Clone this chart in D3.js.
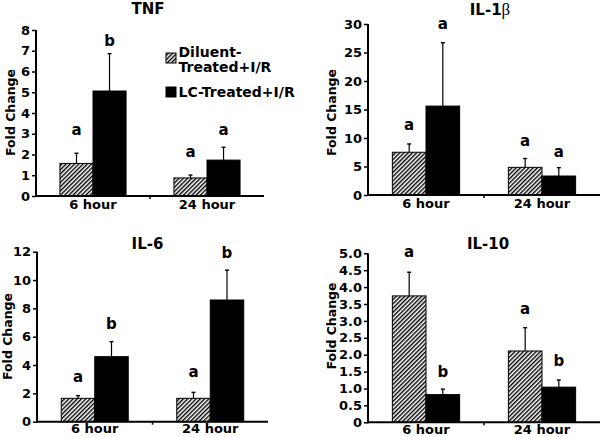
<!DOCTYPE html>
<html>
<head>
<meta charset="utf-8">
<script src="https://cdn.jsdelivr.net/npm/d3@7"></script>
<style>
  html, body { margin: 0; padding: 0; background: #fff; }
  svg { display: block; }
  text { font-family: "DejaVu Sans", Verdana, sans-serif; font-weight: bold; fill: #000; }
</style>
</head>
<body>
<svg id="chart" width="601" height="437"></svg>
<script>
// ---------------- data ----------------
const categories = ["6 hour", "24 hour"];
const seriesNames = ["Diluent-Treated+I/R", "LC-Treated+I/R"];

const tnfDiluent = [1.57, 0.87];
const tnfDiluentErr = [0.49, 0.14];
const tnfLC = [5.06, 1.73];
const tnfLCErr = [1.80, 0.62];
const tnfDiluentLetters = ["a", "a"];
const tnfLCLetters = ["b", "a"];
const tnfDiluentLetterAt = [2.94, 1.88];
const tnfLCLetterAt = [7.22, 2.94];
const tnfTicks = [0, 1, 2, 3, 4, 5, 6, 7, 8];
const tnfTickLabels = ["0", "1", "2", "3", "4", "5", "6", "7", "8"];

const il1Diluent = [7.5, 4.85];
const il1DiluentErr = [1.45, 1.55];
const il1LC = [15.6, 3.33];
const il1LCErr = [11.1, 1.47];
const il1DiluentLetters = ["a", "a"];
const il1LCLetters = ["a", "a"];
const il1DiluentLetterAt = [11.4, 8.65];
const il1LCLetterAt = [29.2, 6.7];
const il1Ticks = [0, 5, 10, 15, 20, 25, 30];
const il1TickLabels = ["0", "5", "10", "15", "20", "25", "30"];

const il6Diluent = [1.65, 1.65];
const il6DiluentErr = [0.19, 0.42];
const il6LC = [4.59, 8.59];
const il6LCErr = [1.06, 2.11];
const il6DiluentLetters = ["a", "a"];
const il6LCLetters = ["b", "b"];
const il6DiluentLetterAt = [2.82, 3.13];
const il6LCLetterAt = [6.52, 11.53];
const il6Ticks = [0, 2, 4, 6, 8, 10, 12];
const il6TickLabels = ["0", "2", "4", "6", "8", "10", "12"];

const il10Diluent = [3.74, 2.11];
const il10DiluentErr = [0.70, 0.69];
const il10LC = [0.82, 1.04];
const il10LCErr = [0.16, 0.21];
const il10DiluentLetters = ["a", "a"];
const il10LCLetters = ["b", "b"];
const il10DiluentLetterAt = [4.9, 3.2];
const il10LCLetterAt = [1.35, 1.67];
const il10Ticks = [0, 0.5, 1, 1.5, 2, 2.5, 3, 3.5, 4, 4.5, 5];
const il10TickLabels = ["0", "0.5", "1.0", "1.5", "2.0", "2.5", "3.0", "3.5", "4.0", "4.5", "5.0"];

// ---------------- layout ----------------
const panels = [
  { title: "TNF", beta: false, left: 36, right: 264, top: 30, bottom: 196, titleX: 148, titleY: 14, ylabX: 10, ylabY: 112.5, xPad: 4,
    values: [tnfDiluent, tnfLC], errs: [tnfDiluentErr, tnfLCErr], letters: [tnfDiluentLetters, tnfLCLetters],
    letterAt: [tnfDiluentLetterAt, tnfLCLetterAt], ticks: tnfTicks, tickLabels: tnfTickLabels, legend: true },
  { title: "IL-1", beta: true, left: 368, right: 600, top: 24, bottom: 195, titleX: 490, titleY: 15, ylabX: 331.5, ylabY: 112.5, xPad: 4,
    values: [il1Diluent, il1LC], errs: [il1DiluentErr, il1LCErr], letters: [il1DiluentLetters, il1LCLetters],
    letterAt: [il1DiluentLetterAt, il1LCLetterAt], ticks: il1Ticks, tickLabels: il1TickLabels },
  { title: "IL-6", beta: false, left: 37, right: 268, top: 251.7, bottom: 421.7, titleX: 147.5, titleY: 248.5, ylabX: 7, ylabY: 336.5, xPad: 2.5,
    values: [il6Diluent, il6LC], errs: [il6DiluentErr, il6LCErr], letters: [il6DiluentLetters, il6LCLetters],
    letterAt: [il6DiluentLetterAt, il6LCLetterAt], ticks: il6Ticks, tickLabels: il6TickLabels },
  { title: "IL-10", beta: false, left: 368, right: 600, top: 253.3, bottom: 422.3, titleX: 488, titleY: 248.5, ylabX: 331, ylabY: 326, xPad: 2,
    values: [il10Diluent, il10LC], errs: [il10DiluentErr, il10LCErr], letters: [il10DiluentLetters, il10LCLetters],
    letterAt: [il10DiluentLetterAt, il10LCLetterAt], ticks: il10Ticks, tickLabels: il10TickLabels }
];

const svg = d3.select("#chart");

// hatch pattern
const defs = svg.append("defs");
const pat = defs.append("pattern")
  .attr("id", "hatch")
  .attr("patternUnits", "userSpaceOnUse")
  .attr("width", 3)
  .attr("height", 3)
  .attr("patternTransform", "rotate(45)");
pat.append("rect").attr("width", 3).attr("height", 3).attr("fill", "#fff");
pat.append("line").attr("x1", 0.7).attr("y1", 0).attr("x2", 0.7).attr("y2", 3)
  .attr("stroke", "#000").attr("stroke-width", 1.45);

const fills = ["url(#hatch)", "#000"];

panels.forEach(p => {
  const g = svg.append("g");
  const yMax = p.ticks[p.ticks.length - 1];
  const y = d3.scaleLinear().domain([0, yMax]).range([p.bottom, p.top]);
  const x0 = d3.scaleBand().domain(categories).range([p.left, p.right]).padding(0);
  const bw = x0.bandwidth();
  const x1 = d3.scaleBand().domain(seriesNames).range([bw * 0.21, bw * 0.79]).padding(0);

  // bars
  seriesNames.forEach((s, si) => {
    categories.forEach((c, ci) => {
      const v = p.values[si][ci];
      const e = p.errs[si][ci];
      const bx = x0(c) + x1(s);
      const cx = bx + x1.bandwidth() / 2;
      // error bar (upward)
      g.append("line")
        .attr("x1", cx).attr("x2", cx)
        .attr("y1", y(v)).attr("y2", y(v + e))
        .attr("stroke", "#000").attr("stroke-width", 1.2);
      g.append("line")
        .attr("x1", cx - 2).attr("x2", cx + 2)
        .attr("y1", y(v + e)).attr("y2", y(v + e))
        .attr("stroke", "#000").attr("stroke-width", 1.4);
      g.append("rect")
        .attr("x", bx).attr("y", y(v))
        .attr("width", x1.bandwidth()).attr("height", y(0) - y(v))
        .attr("fill", fills[si]).attr("stroke", "#000").attr("stroke-width", 1);
      // letter
      g.append("text")
        .attr("x", cx).attr("y", y(p.letterAt[si][ci]))
        .attr("text-anchor", "middle")
        .style("font-size", "15px")
        .text(p.letters[si][ci]);
    });
  });

  // y axis
  const yAxis = d3.axisLeft(y).tickValues(p.ticks)
    .tickFormat((d, i) => p.tickLabels[i]).tickSize(4).tickPadding(2);
  const ya = g.append("g").attr("transform", `translate(${p.left},0)`).call(yAxis);
  ya.select(".domain").attr("stroke-width", 2).attr("d", `M0,${p.top}V${p.bottom + 1}`);
  ya.selectAll(".tick line").attr("stroke-width", 1.5);
  ya.selectAll(".tick text").style("font-size", "13px")
    .style("font-family", '"DejaVu Sans", Verdana, sans-serif').style("font-weight", "bold");

  // x axis
  const xAxis = d3.axisBottom(x0).tickSize(0).tickPadding(p.xPad);
  const xa = g.append("g").attr("transform", `translate(0,${p.bottom})`).call(xAxis);
  xa.select(".domain").attr("stroke-width", 2).attr("d", `M${p.left},0H${p.right}`);
  xa.selectAll(".tick text").attr("dy", "0.71em").style("font-size", "13px")
    .style("font-family", '"DejaVu Sans", Verdana, sans-serif').style("font-weight", "bold");
  // small tick at band boundary
  xa.append("line")
    .attr("x1", x0(categories[1])).attr("x2", x0(categories[1]))
    .attr("y1", 0).attr("y2", 3).attr("stroke", "#000").attr("stroke-width", 1.5);

  // title
  const t = g.append("text").attr("x", p.titleX).attr("y", p.titleY)
    .attr("text-anchor", "middle").style("font-size", "15px").text(p.title);
  if (p.beta) {
    t.append("tspan").style("font-family", '"Liberation Serif", serif')
      .style("font-weight", "normal").style("font-size", "17px").text("β");
  }

  // y label
  g.append("text")
    .attr("transform", `translate(${p.ylabX},${p.ylabY}) rotate(-90)`)
    .attr("text-anchor", "middle").attr("dy", "0.36em")
    .style("font-size", "12.5px").text("Fold Change");

  // legend
  if (p.legend) {
    const lg = g.append("g");
    lg.append("rect").attr("x", 166).attr("y", 53).attr("width", 10).attr("height", 10)
      .attr("fill", fills[0]).attr("stroke", "#000").attr("stroke-width", 1);
    lg.append("text").attr("x", 178.5).attr("y", 57).style("font-size", "14px").text("Diluent-");
    lg.append("text").attr("x", 178.5).attr("y", 72).style("font-size", "14px").text("Treated+I/R");
    lg.append("rect").attr("x", 166).attr("y", 87).attr("width", 10).attr("height", 10)
      .attr("fill", fills[1]).attr("stroke", "#000").attr("stroke-width", 1);
    lg.append("text").attr("x", 178.5).attr("y", 97).style("font-size", "14px").text(seriesNames[1]);
  }
});
</script>
</body>
</html>
